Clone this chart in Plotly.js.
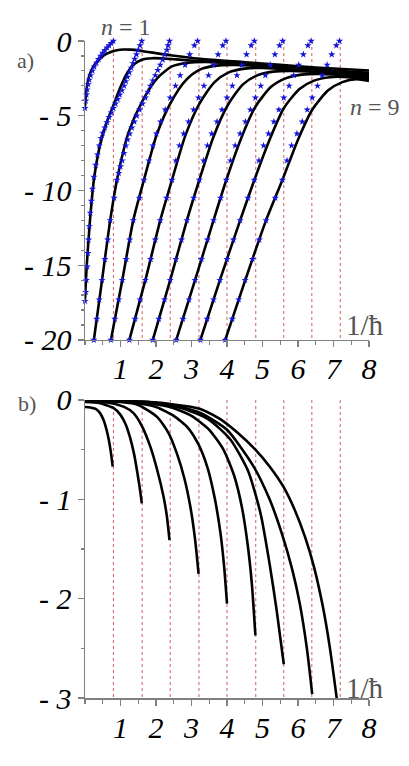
<!DOCTYPE html>
<html><head><meta charset="utf-8">
<script src="https://cdn.plot.ly/plotly-3.0.1.min.js"></script>
<style>html,body{margin:0;padding:0;background:#fff}</style>
</head><body><div id="chart" style="width:409px;height:766px"></div>
<script>
// red dotted reference lines (1/hbar positions)
const redLines = [0.80,1.61,2.40,3.21,4.00,4.81,5.60,6.39,7.19];
const xTicks = [1,2,3,4,5,6,7,8];
const yTicksA = [0,-5,-10,-15,-20];
const yTickTextA = ['0','- 5','- 10','- 15','- 20'];
const yTicksB = [0,-1,-2,-3];
const yTickTextB = ['0','- 1','- 2','- 3'];

// panel a) black curves, n = 1..9
const aBlackX = [
 [0.0,0.03,0.08,0.14,0.25,0.42,0.55,0.71,0.9,1.08,1.3,1.55,2.4,3.25,4.5,5.5,6.5,8.0],
 [0.0,0.05,0.14,0.25,0.42,0.6,0.8,0.98,1.15,1.36,1.6,1.9,2.31,2.97,4.0,5.0,6.0,7.0,8.0],
 [0.25,0.48,0.71,0.9,1.23,1.62,2.05,2.45,2.9,3.4,4.2,5.0,6.0,7.0,8.0],
 [0.73,1.05,1.36,1.66,2.03,2.42,2.85,3.25,3.7,4.2,5.0,6.0,7.0,8.0],
 [1.25,1.7,2.12,2.45,2.83,3.22,3.65,4.05,4.5,5.0,6.0,7.0,8.0],
 [1.91,2.4,2.87,3.22,3.62,4.02,4.45,4.85,5.3,5.8,6.8,8.0],
 [2.57,3.1,3.62,3.98,4.4,4.8,5.25,5.65,6.1,6.6,7.3,8.0],
 [3.25,3.8,4.37,4.77,5.2,5.6,6.05,6.45,6.9,7.4,8.0],
 [3.95,4.5,5.1,5.56,6.0,6.4,6.85,7.25,7.65,8.0]
];
const aBlackY = [
 [-4.4,-3.5,-2.7,-2.19,-1.65,-1.19,-0.93,-0.75,-0.62,-0.57,-0.58,-0.65,-0.95,-1.19,-1.42,-1.6,-1.77,-1.97],
 [-17.3,-15,-12,-9.3,-7.0,-5.5,-4.3,-3.2,-2.3,-1.6,-1.25,-1.15,-1.19,-1.3,-1.45,-1.6,-1.8,-1.98,-2.12],
 [-20,-16,-12,-9.3,-6.1,-4.0,-2.45,-1.7,-1.45,-1.4,-1.5,-1.65,-1.85,-2.03,-2.2],
 [-20,-16,-12,-9.3,-6.2,-4.1,-2.6,-1.9,-1.65,-1.6,-1.7,-1.9,-2.08,-2.28],
 [-20,-16,-12,-9.3,-6.3,-4.2,-2.75,-2.1,-1.85,-1.8,-1.95,-2.15,-2.36],
 [-20,-16,-12,-9.3,-6.4,-4.3,-2.9,-2.3,-2.05,-2.0,-2.12,-2.44],
 [-20,-16,-12,-9.3,-6.5,-4.4,-3.05,-2.5,-2.25,-2.2,-2.3,-2.52],
 [-20,-16,-12,-9.3,-6.6,-4.5,-3.2,-2.65,-2.42,-2.42,-2.6],
 [-20,-16.1,-12,-9.3,-6.6,-4.6,-3.3,-2.75,-2.55,-2.68]
];

// panel a) blue star approximations, n = 1..9
const aBlueX = [
 [0.8,0.74,0.68,0.62,0.56,0.5,0.44,0.38,0.32,0.26,0.21,0.16,0.12,0.09,0.06,0.04,0.02,0.0],
 [1.6,1.55,1.5,1.45,1.4,1.35,1.3,1.25,1.2,1.15,1.1,1.04,0.98,0.92,0.86,0.8,0.74,0.68,0.62,0.56,0.5,0.45,0.4,0.35,0.3,0.25,0.21,0.18,0.15,0.12,0.1,0.08,0.06,0.04,0.02,0.0],
 [2.38,2.34,2.31,2.25,2.19,2.12,2.05,1.98,1.91,1.84,1.77,1.7,1.62,1.54,1.46,1.39,1.32,1.26,1.2,1.15,1.1,1.05,1.0,0.95,0.9,0.82,0.71,0.64,0.56,0.48,0.4,0.33,0.25],
 [3.17,3.08,2.95,2.82,2.68,2.55,2.4,2.26,2.13,2.01,1.91,1.8,1.66,1.53,1.36,1.26,1.16,1.05,0.95,0.84,0.73],
 [3.97,3.88,3.75,3.62,3.48,3.35,3.2,3.06,2.92,2.78,2.66,2.56,2.45,2.3,2.12,1.98,1.85,1.7,1.55,1.41,1.25],
 [4.77,4.68,4.55,4.42,4.28,4.15,4.0,3.86,3.72,3.57,3.45,3.34,3.22,3.06,2.87,2.72,2.56,2.4,2.24,2.08,1.91],
 [5.57,5.48,5.35,5.22,5.08,4.95,4.8,4.66,4.52,4.37,4.23,4.1,3.98,3.82,3.62,3.45,3.28,3.1,2.93,2.76,2.57],
 [6.37,6.28,6.15,6.02,5.88,5.75,5.6,5.46,5.32,5.17,5.03,4.9,4.77,4.59,4.37,4.18,4.0,3.8,3.62,3.44,3.25],
 [7.17,7.08,6.95,6.82,6.68,6.55,6.4,6.26,6.12,5.97,5.82,5.69,5.56,5.36,5.1,4.91,4.72,4.51,4.33,4.15,3.95]
];
const aBlueY = [
 [0,-0.15,-0.3,-0.45,-0.62,-0.8,-1.0,-1.22,-1.46,-1.72,-2.0,-2.3,-2.6,-2.9,-3.25,-3.6,-4.0,-4.5],
 [0,-0.3,-0.6,-0.9,-1.2,-1.5,-1.8,-2.1,-2.4,-2.7,-3.0,-3.3,-3.6,-3.9,-4.2,-4.5,-4.8,-5.1,-5.45,-5.8,-6.15,-6.5,-7.0,-7.6,-8.3,-9.1,-9.9,-10.7,-11.5,-12.4,-13.3,-14.2,-15.1,-16.0,-16.8,-17.4],
 [0,-0.3,-0.6,-0.9,-1.25,-1.6,-1.95,-2.3,-2.65,-3.0,-3.4,-3.8,-4.2,-4.6,-5.0,-5.4,-5.8,-6.2,-6.6,-7.0,-7.5,-8.0,-8.4,-8.85,-9.3,-10.5,-12,-13.3,-14.6,-16,-17.3,-18.6,-20],
 [0,-0.3,-0.9,-1.6,-2.3,-3.0,-3.8,-4.6,-5.4,-6.2,-7.0,-8.0,-9.3,-10.5,-12,-13.3,-14.6,-16,-17.3,-18.6,-20],
 [0,-0.3,-0.9,-1.6,-2.3,-3.0,-3.8,-4.6,-5.4,-6.2,-7.0,-8.0,-9.3,-10.5,-12,-13.3,-14.6,-16,-17.3,-18.6,-20],
 [0,-0.3,-0.9,-1.6,-2.3,-3.0,-3.8,-4.6,-5.4,-6.2,-7.0,-8.0,-9.3,-10.5,-12,-13.3,-14.6,-16,-17.3,-18.6,-20],
 [0,-0.3,-0.9,-1.6,-2.3,-3.0,-3.8,-4.6,-5.4,-6.2,-7.0,-8.0,-9.3,-10.5,-12,-13.3,-14.6,-16,-17.3,-18.6,-20],
 [0,-0.3,-0.9,-1.6,-2.3,-3.0,-3.8,-4.6,-5.4,-6.2,-7.0,-8.0,-9.3,-10.5,-12,-13.3,-14.6,-16,-17.3,-18.6,-20],
 [0,-0.3,-0.9,-1.6,-2.3,-3.0,-3.8,-4.6,-5.4,-6.2,-7.0,-8.0,-9.3,-10.5,-12,-13.3,-14.6,-16,-17.3,-18.6,-20]
];

// panel b) black curves, n = 1..9
const bBlackX = [
 [0,0.15,0.3,0.42,0.52,0.6,0.67,0.73,0.78],
 [0,0.4,0.8,1.0,1.15,1.27,1.38,1.46,1.54,1.6],
 [0,0.7,1.1,1.36,1.6,1.84,2.03,2.21,2.31,2.38],
 [0,1.0,1.5,2.03,2.35,2.59,2.8,2.97,3.1,3.2],
 [0,1.2,2.0,2.5,2.9,3.2,3.45,3.65,3.82,3.92,4.0],
 [0,1.5,2.4,3.0,3.5,3.9,4.2,4.42,4.58,4.7,4.8],
 [0,1.8,2.8,3.5,4.1,4.6,4.95,5.2,5.4,5.6],
 [0,2.2,3.25,4.0,4.75,5.2,5.55,5.84,6.05,6.25,6.4],
 [0,1.5,2.5,3.25,3.8,4.3,4.8,5.2,5.6,5.9,6.2,6.45,6.7,6.9,7.09,7.15]
];
const bBlackY = [
 [-0.07,-0.075,-0.09,-0.13,-0.2,-0.29,-0.4,-0.53,-0.67],
 [-0.02,-0.03,-0.08,-0.15,-0.25,-0.38,-0.54,-0.7,-0.88,-1.04],
 [-0.01,-0.03,-0.07,-0.13,-0.26,-0.47,-0.7,-0.97,-1.18,-1.41],
 [-0.01,-0.02,-0.05,-0.17,-0.33,-0.54,-0.79,-1.08,-1.4,-1.75],
 [-0.01,-0.02,-0.07,-0.16,-0.28,-0.45,-0.68,-0.98,-1.35,-1.68,-2.05],
 [-0.01,-0.02,-0.07,-0.16,-0.3,-0.5,-0.76,-1.08,-1.45,-1.85,-2.37],
 [-0.01,-0.02,-0.09,-0.2,-0.4,-0.72,-1.15,-1.65,-2.12,-2.66],
 [-0.01,-0.03,-0.13,-0.3,-0.67,-1.0,-1.35,-1.71,-2.05,-2.5,-2.96],
 [-0.01,-0.02,-0.045,-0.09,-0.19,-0.33,-0.5,-0.67,-0.88,-1.1,-1.38,-1.68,-2.08,-2.5,-3.0,-3.17]
];

const traces = [];
function redTrace(xa, ya, top, bottom) {
  const x = [], y = [];
  redLines.forEach(r => { x.push(r, r, null); y.push(top, bottom, null); });
  return {x, y, xaxis: xa, yaxis: ya, mode: 'lines', hoverinfo: 'skip',
          line: {color: 'rgb(205,95,95)', width: 1, dash: 'dot'}};
}
traces.push(redTrace('x', 'y', 0, -20));
traces.push(redTrace('x2', 'y2', 0, -3));

aBlackX.forEach((xs, i) => traces.push({
  x: xs, y: aBlackY[i], xaxis: 'x', yaxis: 'y', mode: 'lines',
  line: {color: '#000', width: 2.6, shape: 'spline', smoothing: 0.7}
}));
aBlueX.forEach((xs, i) => traces.push({
  x: xs, y: aBlueY[i], xaxis: 'x', yaxis: 'y', mode: 'markers', cliponaxis: false,
  marker: {symbol: 'star', size: 5.5, color: 'rgb(20,20,215)', line: {width: 0}}
}));
bBlackX.forEach((xs, i) => traces.push({
  x: xs, y: bBlackY[i], xaxis: 'x2', yaxis: 'y2', mode: 'lines',
  line: {color: '#000', width: 2.6, shape: 'spline', smoothing: 0.6}
}));

const tickFont = {family: 'Liberation Serif, serif', size: 30, color: '#000', style: 'italic'};
const axCommon = {
  showgrid: false, zeroline: false, showline: true, linecolor: '#808080', linewidth: 1.5,
  ticks: 'outside', ticklen: 6, tickcolor: '#808080', tickwidth: 1.2, tickfont: tickFont
};
const xCommon = Object.assign({}, axCommon, {
  range: [0, 8], tickvals: xTicks, ticktext: xTicks.map(String), ticklabelstandoff: -4,
  minor: {dtick: 0.5, ticks: 'outside', ticklen: 4, tickcolor: '#808080'}
});
const annFont = {family: 'Liberation Serif, serif', size: 24, color: '#555'};
function ann(text, x, y, size) {
  return {text, xref: 'paper', yref: 'paper', x, y, xanchor: 'center', yanchor: 'middle',
          showarrow: false, font: Object.assign({}, annFont, size ? {size} : {})};
}

const layout = {
  width: 409, height: 766, showlegend: false,
  margin: {l: 85, r: 40, t: 41, b: 68},
  paper_bgcolor: '#fff', plot_bgcolor: '#fff',
  xaxis: Object.assign({}, xCommon, {anchor: 'y'}),
  yaxis: Object.assign({}, axCommon, {domain: [0.545, 1], range: [-20, 0],
    tickvals: yTicksA, ticktext: yTickTextA,
    minor: {dtick: 1, ticks: 'outside', ticklen: 3, tickcolor: '#808080'}}),
  xaxis2: Object.assign({}, xCommon, {anchor: 'y2'}),
  yaxis2: Object.assign({}, axCommon, {domain: [0, 0.4536], range: [-3, 0],
    tickvals: yTicksB, ticktext: yTickTextB,
    minor: {dtick: 0.5, ticks: 'outside', ticklen: 3, tickcolor: '#808080'}}),
  annotations: [
    ann('a)', -0.211, 0.9696, 22),
    ann('b)', -0.204, 0.449, 22),
    ann('<i>n</i> = 1', 0.144, 1.0213),
    ann('<i>n</i> = 9', 1.021, 0.8995),
    ann('1/ħ', 0.986, 0.5677, 29),
    ann('1/ħ', 0.986, 0.0152, 29)
  ]
};
Plotly.newPlot('chart', traces, layout, {displayModeBar: false, staticPlot: true});
</script></body></html>
